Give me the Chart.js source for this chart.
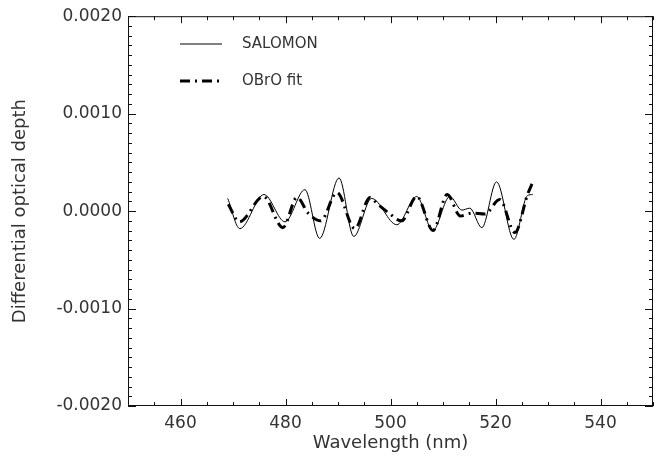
<!DOCTYPE html>
<html>
<head>
<meta charset="utf-8">
<script src="https://cdn.jsdelivr.net/npm/chart.js@4"></script>
<style>
  html, body { margin: 0; padding: 0; background: #fff; }
  #wrap { width: 655px; height: 459px; }
</style>
</head>
<body>
<div id="wrap"><canvas id="chart" width="655" height="459"></canvas></div>
<script>
// values (wavelength in nm, differential optical depth)
const salomonNm = [469.0, 471.3, 475.9, 479.9, 483.7, 486.5, 490.2, 493.0, 496.4, 501.2,
  505.0, 508.05, 511.3, 513.6, 515.1, 517.4, 520.2, 523.5, 526.1, 527.1];
const salomonVals = [1.3e-4, -1.8e-4, 1.7e-4, -1.1e-4, 2.2e-4, -2.8e-4, 3.4e-4, -2.6e-4, 1.3e-4, -1.4e-4,
  1.5e-4, -2.0e-4, 1.5e-4, 0.1e-4, 0.3e-4, -1.7e-4, 3.0e-4, -2.9e-4, 1.6e-4, 1.7e-4];

const fitNm = [469.1, 471.2, 475.8, 479.5, 482.2, 484.3, 486.7, 489.8, 493.2, 496.1, 497.6, 499.7,
  502.1, 505.0, 508.1, 510.8, 513.3, 515.5, 518.0, 520.8, 523.7, 526.1, 527.2];
const fitVals = [0.7e-4, -1.1e-4, 1.5e-4, -1.7e-4, 1.4e-4, -0.2e-4, -1.0e-4, 1.9e-4, -1.8e-4, 1.4e-4, 0.7e-4, -0.2e-4,
  -1.0e-4, 1.5e-4, -2.0e-4, 1.7e-4, -0.5e-4, -0.2e-4, -0.3e-4, 1.2e-4, -2.2e-4, 1.7e-4, 3.1e-4];

const xTicks = [460, 480, 500, 520, 540];
const yTicks = [-0.002, -0.001, 0, 0.001, 0.002];

const toPoints = (xs, ys) => xs.map((x, i) => ({ x, y: ys[i] }));

const FONT = "'DejaVu Sans', sans-serif";
const INK = "#333";
const FIT_DASH = [10, 5, 2, 5];

// box with inward ticks on all four sides (IDL style)
const boxTicks = {
  id: "boxTicks",
  afterDraw(chart) {
    const { ctx, chartArea: a, scales } = chart;
    const xs = scales.x, ys = scales.y;
    ctx.save();
    ctx.strokeStyle = "#111";
    ctx.lineWidth = 1;
    ctx.strokeRect(a.left + 0.5, a.top + 0.5, a.right - a.left - 1, a.bottom - a.top - 1);
    ctx.beginPath();
    for (let v = xs.min; v <= xs.max + 1e-9; v += 5) {
      const px = Math.round(xs.getPixelForValue(v)) + 0.5;
      const len = v % 20 === 0 ? 7 : 4;
      ctx.moveTo(px, a.bottom); ctx.lineTo(px, a.bottom - len);
      ctx.moveTo(px, a.top); ctx.lineTo(px, a.top + len);
    }
    for (let i = -20; i <= 20; i++) {
      const py = Math.round(ys.getPixelForValue(i * 1e-4)) + 0.5;
      const len = i % 10 === 0 ? 8 : 4;
      ctx.moveTo(a.left, py); ctx.lineTo(a.left + len, py);
      ctx.moveTo(a.right, py); ctx.lineTo(a.right - len, py);
    }
    ctx.stroke();

    // legend
    const items = [
      { label: "SALOMON", y: 44, width: 1, dash: [] },
      { label: "OBrO fit", y: 81, width: 3, dash: FIT_DASH },
    ];
    items.forEach((it) => {
      ctx.beginPath();
      ctx.strokeStyle = "#000";
      ctx.lineWidth = it.width;
      ctx.setLineDash(it.dash);
      ctx.moveTo(180, it.y);
      ctx.lineTo(222, it.y);
      ctx.stroke();
      ctx.setLineDash([]);
      ctx.fillStyle = INK;
      ctx.font = "15px " + FONT;
      ctx.textBaseline = "middle";
      ctx.fillText(it.label, 242, it.y);
    });
    ctx.restore();
  },
};

new Chart(document.getElementById("chart"), {
  type: "line",
  data: {
    datasets: [
      {
        label: "SALOMON",
        data: toPoints(salomonNm, salomonVals),
        borderColor: "#000",
        borderWidth: 1,
        pointRadius: 0,
        cubicInterpolationMode: "monotone",
      },
      {
        label: "OBrO fit",
        data: toPoints(fitNm, fitVals),
        borderColor: "#000",
        borderWidth: 3,
        borderDash: FIT_DASH,
        borderCapStyle: "butt",
        pointRadius: 0,
        cubicInterpolationMode: "monotone",
      },
    ],
  },
  options: {
    responsive: false,
    animation: false,
    layout: { padding: { left: 10, right: 2, top: 14, bottom: 5 } },
    plugins: { legend: { display: false }, tooltip: { enabled: false } },
    scales: {
      x: {
        type: "linear",
        min: 450,
        max: 550,
        afterBuildTicks: (axis) => { axis.ticks = xTicks.map((v) => ({ value: v })); },
        afterFit: (axis) => { axis.height = 48; },
        grid: { display: false, drawTicks: false },
        border: { display: false },
        ticks: { color: INK, font: { family: FONT, size: 17 }, padding: 7, maxRotation: 0 },
        title: {
          display: true,
          text: "Wavelength (nm)",
          color: INK,
          font: { family: FONT, size: 18 },
          padding: { top: 0, bottom: 0 },
        },
      },
      y: {
        min: -0.002,
        max: 0.002,
        afterBuildTicks: (axis) => { axis.ticks = yTicks.map((v) => ({ value: v })); },
        afterFit: (axis) => { axis.width = 118; },
        grid: { display: false, drawTicks: false },
        border: { display: false },
        ticks: {
          color: INK,
          font: { family: FONT, size: 17 },
          padding: 6,
          callback: (v) => v.toFixed(4),
        },
        title: {
          display: true,
          text: "Differential optical depth",
          color: INK,
          font: { family: FONT, size: 18 },
          padding: { top: 0, bottom: 0 },
        },
      },
    },
  },
  plugins: [boxTicks],
});
</script>
</body>
</html>
